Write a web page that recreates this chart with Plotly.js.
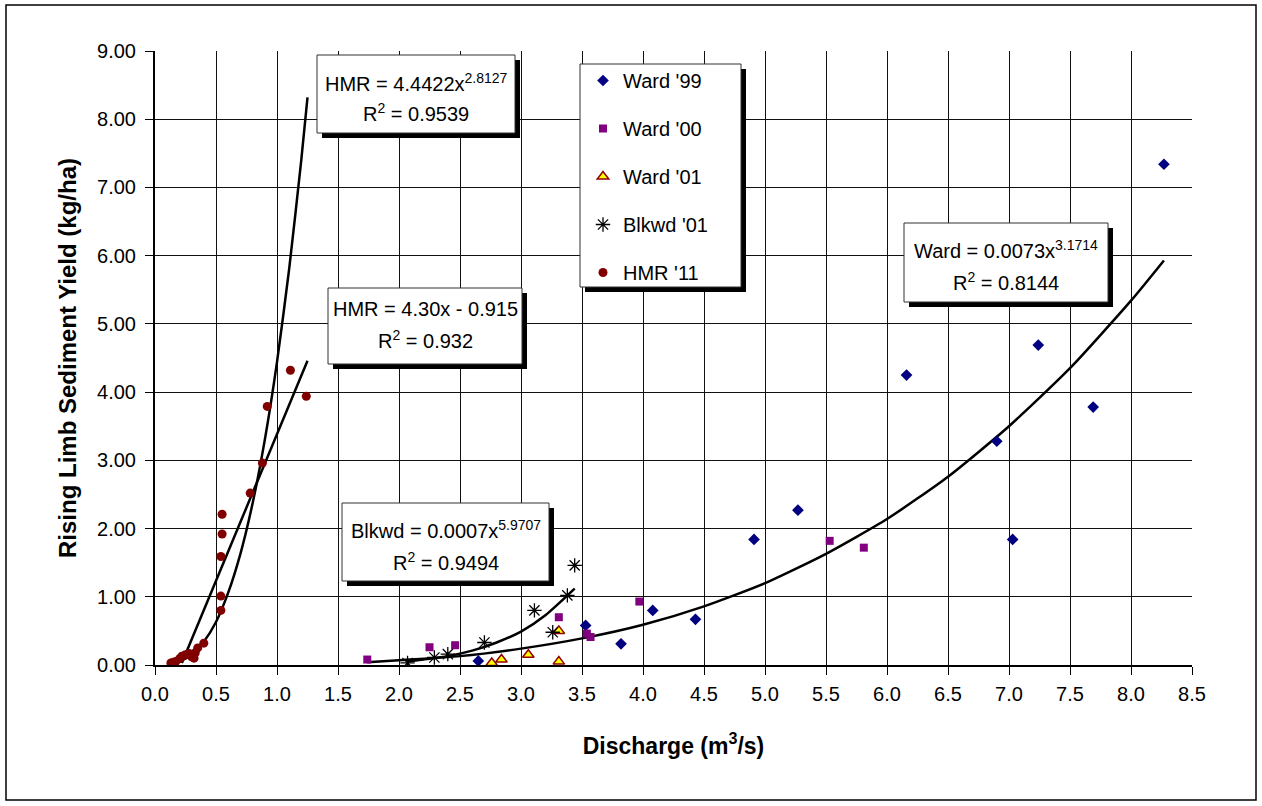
<!DOCTYPE html>
<html>
<head>
<meta charset="utf-8">
<script src="https://cdn.plot.ly/plotly-3.0.1.min.js"></script>
<style>html,body{margin:0;padding:0;background:#fff;}#chart{width:1262px;height:806px;}</style>
</head>
<body>
<div id="chart"></div>
<script>
// ---- data ----
var ward99X = [2.65, 3.53, 3.82, 4.08, 4.43, 4.91, 5.27, 6.16, 6.90, 7.03, 7.24, 7.69, 8.27];
var ward99Y = [0.06, 0.58, 0.31, 0.80, 0.67, 1.84, 2.27, 4.25, 3.28, 1.84, 4.69, 3.78, 7.34];
var ward00X = [1.74, 2.25, 2.46, 3.31, 3.54, 3.57, 3.97, 5.53, 5.81];
var ward00Y = [0.08, 0.26, 0.29, 0.70, 0.46, 0.41, 0.93, 1.82, 1.72];
var ward01X = [2.76, 2.84, 3.06, 3.31, 3.31];
var ward01Y = [0.03, 0.08, 0.15, 0.50, 0.05];
var blkwdX = [2.07, 2.29, 2.40, 2.70, 3.11, 3.26, 3.38, 3.44];
var blkwdY = [0.03, 0.11, 0.16, 0.33, 0.80, 0.48, 1.02, 1.46];
var hmrX = [0.13, 0.15, 0.17, 0.20, 0.22, 0.25, 0.28, 0.30, 0.32, 0.33, 0.35, 0.40, 0.54, 0.54, 0.54, 0.55, 0.55, 0.78, 0.88, 0.92, 1.11, 1.24];
var hmrY = [0.03, 0.04, 0.05, 0.09, 0.13, 0.15, 0.17, 0.12, 0.10, 0.18, 0.25, 0.32, 0.80, 1.01, 1.59, 1.92, 2.21, 2.52, 2.96, 3.79, 4.32, 3.94];

// trend lines
var hmrPowX = [0.13, 0.2, 0.3, 0.4, 0.5, 0.6, 0.7, 0.8, 0.9, 1.0, 1.1, 1.2, 1.25];
var hmrPowY = [0.01, 0.05, 0.15, 0.34, 0.63, 1.06, 1.63, 2.37, 3.30, 4.44, 5.81, 7.42, 8.32];
var hmrLinX = [0.22, 1.25];
var hmrLinY = [0.03, 4.46];
var blkPowX = [2.07, 2.2, 2.4, 2.6, 2.8, 3.0, 3.2, 3.44];
var blkPowY = [0.05, 0.08, 0.13, 0.21, 0.33, 0.49, 0.73, 1.12];
var wardPowX = [1.74, 2.0, 2.5, 3.0, 3.5, 4.0, 4.5, 5.0, 5.5, 6.0, 6.5, 7.0, 7.5, 8.0, 8.27];
var wardPowY = [0.04, 0.07, 0.13, 0.24, 0.39, 0.59, 0.86, 1.20, 1.63, 2.14, 2.76, 3.50, 4.35, 5.34, 5.93];

var seriesNames = ["Ward '99", "Ward '00", "Ward '01", "Blkwd '01", "HMR '11"];
var fitLabels = [
  ["HMR = 4.4422x<sup>2.8127</sup>", "R<sup>2</sup> = 0.9539"],
  ["HMR = 4.30x - 0.915", "R<sup>2</sup> = 0.932"],
  ["Blkwd = 0.0007x<sup>5.9707</sup>", "R<sup>2</sup> = 0.9494"],
  ["Ward = 0.0073x<sup>3.1714</sup>", "R<sup>2</sup> = 0.8144"]
];
var xTitle = "Discharge (m<sup>3</sup>/s)";
var yTitle = "Rising Limb Sediment Yield (kg/ha)";

// ---- layout helpers (pixel -> paper) ----
var W = 1262, H = 806, ML = 155, MR = 70, MT = 51, MB = 141;
var PW = W - ML - MR, PH = H - MT - MB;
function fx(p) { return (p - ML) / PW; }
function fy(p) { return (H - MB - p) / PH; }

var FONT = "Liberation Sans, Arial, sans-serif";

var traces = [];
function fit(x, y) {
  return {x: x, y: y, type: 'scatter', mode: 'lines', showlegend: false, hoverinfo: 'skip',
          line: {color: '#000', width: 2.5, shape: 'spline', smoothing: 0.6}};
}
traces.push(fit(wardPowX, wardPowY));
traces.push(fit(blkPowX, blkPowY));
traces.push(fit(hmrLinX, hmrLinY));
traces.push(fit(hmrPowX, hmrPowY));

traces.push({x: ward99X, y: ward99Y, name: seriesNames[0], legendgroup: 'a', type: 'scatter', mode: 'markers',
  marker: {symbol: 'diamond', size: 9, color: '#000080'}});
traces.push({x: ward00X, y: ward00Y, name: seriesNames[1], legendgroup: 'b', type: 'scatter', mode: 'markers',
  marker: {symbol: 'square', size: 8, color: '#800080'}});
traces.push({x: ward01X, y: ward01Y, name: seriesNames[2], legendgroup: 'c', type: 'scatter', mode: 'markers',
  marker: {symbol: 'triangle-up', size: 10, color: '#FFFF00', line: {color: '#900000', width: 1.5}}});
traces.push({x: blkwdX, y: blkwdY, name: seriesNames[3], legendgroup: 'd', type: 'scatter', mode: 'markers',
  marker: {symbol: 'asterisk-open', size: 12, color: '#000', line: {color: '#000', width: 1.3}}});
traces.push({x: hmrX, y: hmrY, name: seriesNames[4], legendgroup: 'e', type: 'scatter', mode: 'markers',
  marker: {symbol: 'circle', size: 9, color: '#800000'}});

// boxes: [left, top, right, bottom] in px, with text line centres
var boxes = [
  {r: [317, 55, 515, 133], l1: 82, l2: 112},
  {r: [328, 288, 522, 364], l1: 309, l2: 339},
  {r: [342, 503, 549, 581], l1: 529, l2: 561},
  {r: [904, 223, 1108, 302], l1: 249, l2: 281}
];
var legendBox = [580, 64, 741, 287];

var shapes = [];
var annotations = [];
function boxShapes(b) {
  shapes.push({type: 'rect', xref: 'paper', yref: 'paper', layer: 'above',
    x0: fx(b[0] + 5), x1: fx(b[2] + 5), y0: fy(b[1] + 5), y1: fy(b[3] + 5),
    fillcolor: '#000', line: {width: 0}});
  shapes.push({type: 'rect', xref: 'paper', yref: 'paper', layer: 'above',
    x0: fx(b[0]), x1: fx(b[2]), y0: fy(b[1]), y1: fy(b[3]),
    fillcolor: '#fff', line: {color: '#303030', width: 1}});
}
boxes.forEach(function (bx, i) {
  boxShapes(bx.r);
  var cx = fx((bx.r[0] + bx.r[2]) / 2);
  annotations.push({xref: 'paper', yref: 'paper', x: cx, y: fy(bx.l1), xanchor: 'center', yanchor: 'middle',
    showarrow: false, text: fitLabels[i][0], font: {family: FONT, size: 20, color: '#000'}});
  annotations.push({xref: 'paper', yref: 'paper', x: cx, y: fy(bx.l2), xanchor: 'center', yanchor: 'middle',
    showarrow: false, text: fitLabels[i][1], font: {family: FONT, size: 20, color: '#000'}});
});
boxShapes(legendBox);
// outer chart border
shapes.push({type: 'rect', xref: 'paper', yref: 'paper', layer: 'below',
  x0: fx(6), x1: fx(1256), y0: fy(5), y1: fy(800), line: {color: '#000', width: 1.5}});

var layout = {
  width: W, height: H,
  margin: {l: ML, r: MR, t: MT, b: MB, pad: 0},
  paper_bgcolor: '#fff', plot_bgcolor: '#fff',
  font: {family: FONT, size: 20, color: '#000'},
  showlegend: true,
  legend: {x: fx(583), y: fy(61), xanchor: 'left', yanchor: 'top', bgcolor: 'rgba(0,0,0,0)', borderwidth: 0,
    font: {family: FONT, size: 20, color: '#000'}, tracegroupgap: 19, traceorder: 'grouped'},
  xaxis: {range: [0, 8.5], dtick: 0.5, tick0: 0, tickformat: '.1f', showgrid: true, gridcolor: '#111', gridwidth: 1,
    showline: true, linecolor: '#000', linewidth: 2, ticks: 'outside', ticklen: 8, tickcolor: '#000', tickwidth: 1,
    zeroline: false, fixedrange: true, ticklabelstandoff: 2,
    title: {text: xTitle, font: {family: FONT, size: 23, color: '#000', weight: 'bold'}, standoff: 34},
    tickfont: {family: FONT, size: 20, color: '#000'}},
  yaxis: {range: [0, 9], dtick: 1, tick0: 0, tickformat: '.2f', showgrid: true, gridcolor: '#111', gridwidth: 1,
    showline: true, linecolor: '#000', linewidth: 2, ticks: 'outside', ticklen: 8, tickcolor: '#000', tickwidth: 1,
    zeroline: false, fixedrange: true, ticklabelstandoff: 5,
    title: {text: yTitle, font: {family: FONT, size: 24, color: '#000', weight: 'bold'}, standoff: 14},
    tickfont: {family: FONT, size: 20, color: '#000'}},
  shapes: shapes,
  annotations: annotations
};

Plotly.newPlot('chart', traces, layout, {displayModeBar: false, staticPlot: true});
</script>
</body>
</html>
